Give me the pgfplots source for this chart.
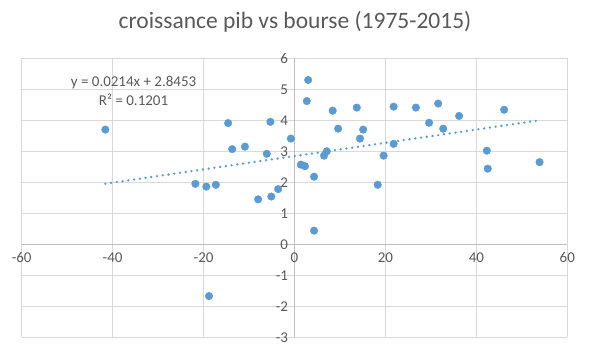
\documentclass[border=0pt]{standalone}
\usepackage{pgfplots}
\pgfplotsset{compat=1.18}
\usepackage{fontspec}
\setmainfont{Carlito}
\definecolor{ptblue}{HTML}{5B9BD5}
\definecolor{gridgray}{HTML}{D9D9D9}
\definecolor{axgray}{HTML}{BFBFBF}
\definecolor{txtgray}{HTML}{595959}
\begin{document}
\begin{tikzpicture}[x=1pt,y=1pt]
\useasboundingbox (-21.7,-14.7) rectangle (569.3,337.3);
\begin{axis}[
  at={(0,0)}, anchor=south west,
  scale only axis, width=545.6pt, height=279pt,
  xmin=-60, xmax=60, ymin=-3, ymax=6,
  axis lines=middle,
  axis line style={-, color=axgray, line width=0.75pt},
  xtick={-60,-40,...,60}, ytick={-3,...,6},
  hide obscured x ticks=false, hide obscured y ticks=false,
  major tick length=0pt,
  grid=major,
  major grid style={color=gridgray, line width=0.75pt},
  tick label style={font=\fontsize{15}{17}\selectfont, text=txtgray},
  /pgf/number format/assume math mode=true,
  xticklabel style={anchor=north, yshift=-5pt},
  yticklabel style={anchor=east, xshift=-3pt},
  clip=false,
]
\addplot[only marks, mark=*, mark size=3.8pt, color=ptblue, mark options={draw=ptblue, fill=ptblue}] coordinates {
(-41.6,3.70) (-21.8,1.95) (-19.4,1.86) (-17.3,1.92) (-18.8,-1.67)
(-14.6,3.91) (-13.7,3.07) (-10.9,3.15) (-8.0,1.45) (-6.1,2.92)
(-5.3,3.95) (-5.1,1.54) (-3.6,1.78) (-0.8,3.41) (1.4,2.57)
(2.3,2.52) (3.0,5.30) (2.7,4.62) (4.3,2.18) (4.3,0.44)
(6.5,2.86) (7.1,3.00) (8.4,4.31) (9.6,3.73) (13.7,4.41)
(14.4,3.41) (15.1,3.70) (18.3,1.92) (19.6,2.86) (21.8,4.44)
(21.8,3.24) (26.7,4.41) (29.6,3.92) (31.6,4.54) (32.7,3.73)
(36.2,4.14) (42.3,3.02) (42.5,2.44) (46.1,4.34) (53.9,2.65)
};
\addplot[color=ptblue, line width=2.6pt, line cap=round, dash pattern=on 0pt off 5.8pt] coordinates {
(-41.6,1.955) (53.9,3.999)
};
\node[font=\fontsize{15}{19}\selectfont, text=txtgray, align=center] at (axis cs:-35.4,4.96) {y = 0.0214x + 2.8453\\R² = 0.1201};
\end{axis}
\node[font=\fontsize{23.5}{27}\selectfont, text=txtgray] at (273.3,315.3) {croissance pib vs bourse (1975-2015)};
\end{tikzpicture}
\end{document}
